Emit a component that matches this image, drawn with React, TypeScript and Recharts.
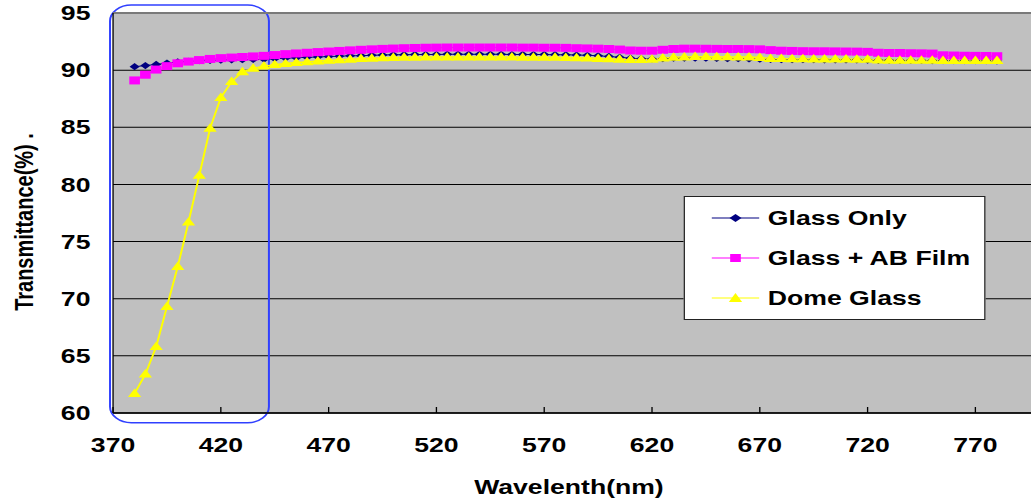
import React from "react";
import {
  CartesianGrid,
  Legend,
  Line,
  LineChart,
  ReferenceArea,
  ReferenceLine,
  XAxis,
  YAxis,
} from "recharts";

// wavelength (nm)
const wavelengths = [
  380, 385, 390, 395, 400, 405, 410, 415, 420, 425, 430, 435, 440, 445, 450, 455, 460,
  465, 470, 475, 480, 485, 490, 495, 500, 505, 510, 515, 520, 525, 530, 535, 540, 545,
  550, 555, 560, 565, 570, 575, 580, 585, 590, 595, 600, 605, 610, 615, 620, 625, 630,
  635, 640, 645, 650, 655, 660, 665, 670, 675, 680, 685, 690, 695, 700, 705, 710, 715,
  720, 725, 730, 735, 740, 745, 750, 755, 760, 765, 770, 775, 780,
];

const glassOnly = [
  90.3, 90.4, 90.5, 90.62, 90.72, 90.78, 90.82, 90.85, 90.88, 90.9, 90.92, 90.94, 90.96,
  91.0, 91.04, 91.08, 91.12, 91.16, 91.2, 91.22, 91.25, 91.27, 91.3, 91.32, 91.34, 91.35,
  91.36, 91.37, 91.37, 91.38, 91.38, 91.38, 91.38, 91.38, 91.38, 91.37, 91.37, 91.36,
  91.36, 91.35, 91.34, 91.32, 91.3, 91.26, 91.2, 91.12, 91.05, 91.0, 90.98, 91.0, 91.04,
  91.06, 91.06, 91.04, 91.02, 91.0, 91.0, 90.98, 90.96, 90.94, 90.92, 90.92, 90.92, 90.92,
  90.9, 90.9, 90.9, 90.9, 90.88, 90.86, 90.86, 90.85, 90.85, 90.85, 90.84, 90.84, 90.83,
  90.83, 90.82, 90.82, 90.8,
];

const abFilm = [
  89.1, 89.6, 90.05, 90.35, 90.6, 90.75, 90.88, 90.98, 91.05, 91.1, 91.15, 91.2, 91.25,
  91.32, 91.4, 91.46, 91.52, 91.58, 91.63, 91.68, 91.73, 91.78, 91.82, 91.86, 91.89, 91.92,
  91.94, 91.96, 91.97, 91.98, 91.98, 91.98, 91.98, 91.98, 91.98, 91.98, 91.97, 91.97,
  91.96, 91.96, 91.95, 91.92, 91.9, 91.88, 91.85, 91.8, 91.72, 91.7, 91.7, 91.78, 91.85,
  91.88, 91.88, 91.87, 91.86, 91.85, 91.85, 91.84, 91.82, 91.75, 91.7, 91.68, 91.66, 91.65,
  91.65, 91.64, 91.63, 91.62, 91.6, 91.52, 91.5, 91.5, 91.48, 91.47, 91.45, 91.3, 91.28,
  91.26, 91.25, 91.24, 91.22,
];

const domeGlass = [
  61.7, 63.4, 65.8, 69.3, 72.8, 76.7, 80.8, 84.9, 87.6, 89.0, 89.85, 90.15, 90.35, 90.48,
  90.58, 90.66, 90.72, 90.79, 90.85, 90.9, 90.95, 91.0, 91.04, 91.07, 91.1, 91.12, 91.13,
  91.14, 91.14, 91.15, 91.15, 91.15, 91.15, 91.15, 91.14, 91.14, 91.13, 91.12, 91.12,
  91.11, 91.1, 91.08, 91.06, 91.02, 90.98, 90.95, 90.93, 90.93, 90.95, 91.05, 91.12, 91.15,
  91.18, 91.18, 91.17, 91.16, 91.15, 91.14, 91.1, 91.02, 91.0, 90.98, 90.98, 90.97, 90.97,
  90.96, 90.96, 90.95, 90.94, 90.88, 90.86, 90.86, 90.85, 90.85, 90.85, 90.84, 90.84,
  90.84, 90.83, 90.83, 90.83,
];

const xTicks = [370, 420, 470, 520, 570, 620, 670, 720, 770];
const yTicks = [60, 65, 70, 75, 80, 85, 90, 95];

const rows = wavelengths.map((wl, i) => ({
  wl,
  glassOnly: glassOnly[i],
  abFilm: abFilm[i],
  domeGlass: domeGlass[i],
}));

// the whole picture is stretched sideways, so draw narrow and scale x
const STRETCH = 1.33;
const W = 782;
const H = 498;
const FONT = "'Liberation Sans', Arial, sans-serif";

const NAVY = "#000080";
const PINK = "#ff00ff";
const YELLOW = "#ffff00";

const diamondPath = (cx: number, cy: number, rx: number, ry: number) =>
  `M${cx},${cy - ry}L${cx + rx},${cy}L${cx},${cy + ry}L${cx - rx},${cy}Z`;
const trianglePath = (cx: number, cy: number, hw: number, h: number) =>
  `M${cx},${cy - h * 0.6}L${cx + hw},${cy + h * 0.4}L${cx - hw},${cy + h * 0.4}Z`;

const diamondDot = (p: any) => (
  <path key={`d${p.index}`} d={diamondPath(p.cx, p.cy, 3.8, 3.6)} fill={NAVY} />
);
const squareDot = (p: any) => (
  <rect key={`s${p.index}`} x={p.cx - 4} y={p.cy - 4} width={8} height={8} fill={PINK} />
);
const triangleDot = (p: any) => (
  <path key={`t${p.index}`} d={trianglePath(p.cx, p.cy, 5, 8.5)} fill={YELLOW} />
);

const legendItems = [
  { name: "Glass Only", color: NAVY, marker: "diamond" },
  { name: "Glass + AB Film", color: PINK, marker: "square" },
  { name: "Dome Glass", color: YELLOW, marker: "triangle" },
];

function LegendBox() {
  return (
    <div
      style={{
        width: 227,
        height: 124,
        boxSizing: "border-box",
        border: "1px solid #222",
        background: "#fff",
        paddingTop: 1,
        fontFamily: FONT,
      }}
    >
      {legendItems.map((it) => (
        <div key={it.name} style={{ display: "flex", alignItems: "center", height: 40, paddingLeft: 20 }}>
          <svg width={36} height={14} style={{ marginRight: 6 }}>
            <line x1={0} y1={7} x2={36} y2={7} stroke={it.color} strokeWidth={1} />
            {it.marker === "diamond" && <path d={diamondPath(18, 7, 4.5, 4)} fill={it.color} />}
            {it.marker === "square" && <rect x={14} y={3} width={8} height={8} fill={it.color} />}
            {it.marker === "triangle" && <path d={trianglePath(18, 7.5, 5, 9)} fill={it.color} />}
          </svg>
          <span style={{ fontSize: 20, fontWeight: "bold", color: "#000", lineHeight: "20px" }}>{it.name}</span>
        </div>
      ))}
    </div>
  );
}

const XTitle = (props: any) => (
  <text
    x={427.8}
    y={props.viewBox.y + 81}
    textAnchor="middle"
    fontSize={20}
    fontWeight="bold"
    fill="#000"
  >
    Wavelenth(nm)
  </text>
);

const YTitle = () => (
  <text transform="translate(24.5,222) rotate(-90)" textAnchor="middle" fontSize={20} fontWeight="bold" fill="#000">
    Transmittance(%) .
  </text>
);

const tickStyle = { fill: "#000", fontSize: 20, fontWeight: "bold" as const };

export default function App() {
  return (
    <div
      style={{
        position: "fixed",
        left: 0,
        top: 0,
        width: 1031,
        height: 498,
        overflow: "hidden",
        background: "#fff",
      }}
    >
      <div
        style={{
          width: W,
          height: H,
          transform: `scaleX(${STRETCH})`,
          transformOrigin: "0 0",
          fontFamily: FONT,
        }}
      >
        <LineChart width={W} height={H} data={rows} margin={{ top: 13, right: 0, bottom: 0, left: 0 }}>
          <CartesianGrid vertical={false} stroke="#000" fill="#c0c0c0" fillOpacity={1} />
          <XAxis
            dataKey="wl"
            type="number"
            domain={[370, 800]}
            ticks={xTicks}
            height={85}
            axisLine={{ stroke: "#000", strokeWidth: 1.5 }}
            tickLine={{ stroke: "#000" }}
            tickSize={-6}
            tickMargin={31}
            tick={tickStyle}
            label={XTitle}
          />
          <YAxis
            domain={[60, 95]}
            ticks={yTicks}
            width={85}
            axisLine={{ stroke: "#000" }}
            tickLine={false}
            tickSize={0}
            tickMargin={17}
            tick={tickStyle}
            label={YTitle}
          />
          <ReferenceLine y={95} stroke="#7a7a7a" strokeWidth={2} />
          <Line
            dataKey="glassOnly"
            name="Glass Only"
            type="linear"
            stroke={NAVY}
            strokeWidth={1}
            dot={diamondDot}
            activeDot={false}
            isAnimationActive={false}
          />
          <Line
            dataKey="abFilm"
            name="Glass + AB Film"
            type="linear"
            stroke={PINK}
            strokeWidth={1}
            dot={squareDot}
            activeDot={false}
            isAnimationActive={false}
          />
          <Line
            dataKey="domeGlass"
            name="Dome Glass"
            type="linear"
            stroke={YELLOW}
            strokeWidth={1.5}
            dot={triangleDot}
            activeDot={false}
            isAnimationActive={false}
          />
          <ReferenceArea
            x1={368.6}
            x2={442.3}
            y1={59.15}
            y2={95.7}
            ifOverflow="visible"
            shape={(p: any) => (
              <rect
                x={p.x}
                y={p.y}
                width={p.width}
                height={p.height}
                rx={16}
                ry={16}
                fill="none"
                stroke="#3040ff"
                strokeWidth={1.5}
              />
            )}
          />
          <Legend
            layout="horizontal"
            verticalAlign="middle"
            align="center"
            content={() => <LegendBox />}
            wrapperStyle={{ left: 514.3, top: 196, width: 227, height: 124 }}
          />
        </LineChart>
      </div>
    </div>
  );
}
